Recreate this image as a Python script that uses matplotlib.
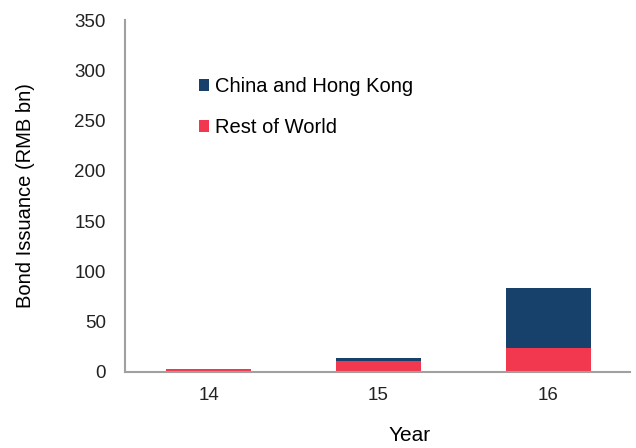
import matplotlib.pyplot as plt
import numpy as np

plt.rcParams['font.family'] = ['Liberation Sans', 'DejaVu Sans']

# Dados
years = ['14', '15', '16']
rest_of_world = [2.5, 11, 24]
china_hk = [0.3, 3, 59]

fig = plt.figure(figsize=(6.36, 4.48), dpi=100)
ax = fig.add_axes([0.197, 0.17, 0.793, 0.785])

x = np.arange(len(years))
ax.bar(x, rest_of_world, width=0.5, color='#F2384F', label='Rest of World', zorder=2)
ax.bar(x, china_hk, width=0.5, bottom=rest_of_world, color='#17406A',
       label='China and Hong Kong', zorder=2)

ax.set_xlim(-0.49, 2.48)
ax.set_ylim(0, 350)
ax.set_yticks(range(0, 351, 50))
ax.set_xticks(x)
ax.set_xticklabels(years)
ax.tick_params(length=0, labelsize=13.5, colors='#222222')
ax.tick_params(axis='y', pad=14)
ax.tick_params(axis='x', pad=11)

for side in ['top', 'right']:
    ax.spines[side].set_visible(False)
for side in ['left', 'bottom']:
    ax.spines[side].set_color('#A0A0A0')
    ax.spines[side].set_linewidth(1.5)

ax.set_ylabel('Bond Issuance (RMB bn)', fontsize=14.5, labelpad=28)
ax.set_xlabel('Year', fontsize=15)
ax.xaxis.set_label_coords(0.564, -0.155)

handles, labels = ax.get_legend_handles_labels()
ax.legend(handles[::-1], labels[::-1], loc='upper left', bbox_to_anchor=(0.11, 0.89),
          frameon=False, fontsize=14.5, handlelength=0.5, handleheight=0.5,
          handletextpad=0.3, labelspacing=1.1)

plt.savefig('out.png', dpi=100)
